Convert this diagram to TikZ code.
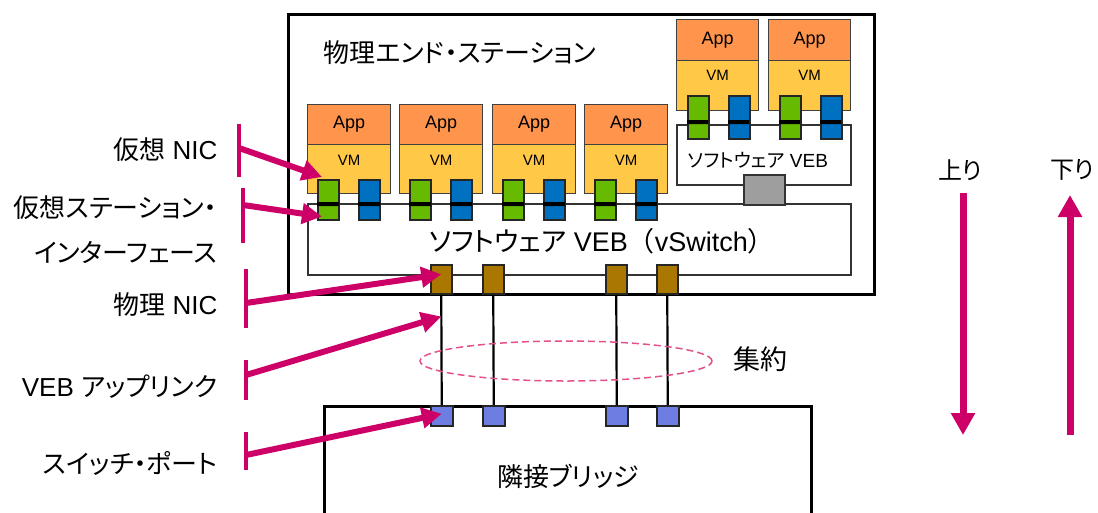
\documentclass[tikz,border=0pt]{standalone}
\usepackage{fontspec}
\setmainfont{Liberation Sans}
\newfontfamily\jp[RawFeature=+palt]{Noto Sans CJK JP}
\newfontfamily\jpf{Noto Sans CJK JP}
\usetikzlibrary{arrows.meta,shapes.geometric}
\definecolor{appor}{RGB}{255,148,77}
\definecolor{vmye}{RGB}{255,200,70}
\definecolor{nicgr}{RGB}{102,187,0}
\definecolor{nicbl}{RGB}{0,112,192}
\definecolor{nicbr}{RGB}{170,120,0}
\definecolor{portbl}{RGB}{110,125,225}
\definecolor{pinku}{RGB}{204,0,102}
\definecolor{pinkl}{RGB}{228,80,140}
\begin{document}
\begin{tikzpicture}[x=1pt,y=-1pt]
\tikzstyle{box}=[draw,inner sep=0pt,anchor=north west]
\tikzstyle{app}=[box,fill=appor,draw=black!75,line width=1.2pt,minimum height=40pt,minimum width=83pt,font=\fontsize{18}{18}\selectfont]
\tikzstyle{vm}=[box,fill=vmye,draw=black!75,line width=1.2pt,minimum height=49pt,minimum width=83pt]
\tikzstyle{vmtxt}=[font=\fontsize{15}{15}\selectfont]
\tikzstyle{nic}=[box,draw=black!85,line width=1.5pt,minimum width=21pt,minimum height=40pt]
\tikzstyle{link}=[black,line width=2.2pt]
\tikzstyle{lbl}=[font=\fontsize{26}{30}\selectfont]
\tikzstyle{callout}=[pinku,line width=6pt,-{Triangle[length=20pt,width=20pt]}]
\tikzstyle{bar}=[pinku,line width=4.5pt]
\tikzstyle{bigarrow}=[pinku,line width=7pt,-{Triangle[length=22pt,width=23pt]}]
\clip (0,0) rectangle (1098,512);
\fill[white] (0,0) rectangle (1098,512);
% end station
\node[box,line width=3pt,minimum width=586pt,minimum height=280pt] (es) at (287,13) {};
\node[lbl] (estxt) at (460,53) {\jp 物理エンド・ステーション};
\node[box,draw=black!80,line width=2pt,minimum width=543pt,minimum height=71pt] (vsw) at (307,203) {};
\node[font=\fontsize{27}{30}\selectfont] (vswtxt) at (602,241) {{\jp ソフトウェア} VEB{\jpf （}vSwitch{\jpf ）}};
\node[box,draw=black!80,line width=2pt,minimum width=174pt,minimum height=60pt] (veb) at (676,124) {};
\node[font=\fontsize{19}{19}\selectfont] (vebtxt) at (758,160) {{\jp ソフトウェア} VEB};
\node[box,fill=black!38,draw=black!80,line width=1.5pt,minimum width=41pt,minimum height=30pt] (up) at (743,174) {};
% VMs on the vSwitch
\foreach \i/\x in {1/307,2/399,3/492,4/584}{
  \node[app] (a\i) at (\x,104) {App};
  \node[vm] (v\i) at (\x,144) {};
  \node[vmtxt] at ([yshift=-16pt]v\i.north) {VM};
  \node[nic,fill=nicgr] (g\i) at (\x+10,179) {};
  \node[nic,fill=nicbl] (b\i) at (\x+51,179) {};
  \fill (\x+10,202) rectangle ++(22,4) (\x+51,202) rectangle ++(22,4);
}
% VMs on the small VEB
\foreach \i/\x in {5/676,6/768}{
  \node[app,minimum width=82pt,minimum height=41pt] (a\i) at (\x,19) {App};
  \node[vm,minimum width=82pt,minimum height=50pt] (v\i) at (\x,60) {};
  \node[vmtxt] at ([yshift=-15pt]v\i.north) {VM};
  \node[nic,fill=nicgr,minimum height=43pt] (g\i) at (\x+11,95) {};
  \node[nic,fill=nicbl,minimum height=43pt] (b\i) at (\x+52,95) {};
  \fill (\x+11,120) rectangle ++(21,4) (\x+52,120) rectangle ++(21,4);
}
% uplinks and bridge
\node[box,line width=3pt,minimum width=487pt,minimum height=130pt] (br) at (323,405) {};
\node[lbl] (brtxt) at (568,476) {\jp 隣接ブリッジ};
\foreach \i/\x in {1/430,2/482,3/605,4/656}{
  \node[nic,fill=nicbr,minimum height=29pt] (p\i) at (\x,264) {};
  \node[nic,fill=portbl,minimum width=22pt,minimum height=20pt] (q\i) at (\x,405) {};
  \draw[link] (p\i.south) -- (q\i.north);
}
\node[ellipse,draw=pinkl,dash pattern=on 7pt off 4pt,line width=1.5pt,minimum width=292pt,minimum height=40pt] (agg) at (566,361) {};
\node[font=\fontsize{27}{30}\selectfont] (aggtxt) at (760,359) {\jp 集約};
% labels on the left
\node[lbl,anchor=east] (vnic) at (221,150) {{\jp 仮想} NIC};
\node[lbl,anchor=east] (vsi1) at (221,208) {\jp 仮想ステーション・};
\node[lbl,anchor=east] (vsi2) at (221,252) {\jp インターフェース};
\node[lbl,anchor=east] (pnic) at (221,305) {{\jp 物理} NIC};
\node[lbl,anchor=east] (upl) at (221,387) {VEB {\jp アップリンク}};
\node[lbl,anchor=east] (sport) at (221,463) {\jp スイッチ・ポート};
\coordinate (s1) at (239,148);
\coordinate (s2) at (243,205);
\coordinate (s3) at (246,303);
\coordinate (s4) at (246,375);
\coordinate (s5) at (246,455);
\draw[bar] (239,124) -- (239,177) (243,188) -- (243,243) (246,269) -- (246,328)
  (246,360) -- (246,400) (246,432) -- (246,470);
\draw[callout] (s1) -- ([shift={(5pt,2pt)}]g1.north west);
\draw[callout] (s2) -- ([shift={(5pt,4pt)}]g1.south west);
\draw[callout] (s3) -- ([yshift=5pt]p1.center);
\draw[callout] (s4) -- ([yshift=-22pt]p1.south);
\draw[callout] (s5) -- ([yshift=2pt]q1.center);
% direction
\node[font=\fontsize{24}{24}\selectfont] (upw) at (960,170) {\jp 上り};
\node[font=\fontsize{24}{24}\selectfont] (dnw) at (1072,170) {\jp 下り};
\coordinate (d1) at (963,193);
\coordinate (d2) at (963,435);
\coordinate (u1) at (1070,435);
\coordinate (u2) at (1070,195);
\draw[bigarrow] (d1) -- (d2);
\draw[bigarrow] (u1) -- (u2);
\end{tikzpicture}
\end{document}
